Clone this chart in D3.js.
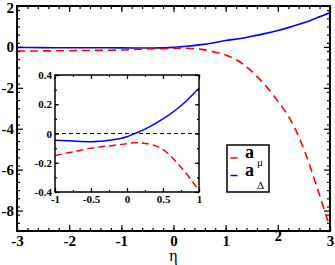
<!DOCTYPE html>
<html>
<head>
<meta charset="utf-8">
<script src="https://cdn.jsdelivr.net/npm/d3@7"></script>
<style>
  body { margin: 0; background: #fff; }
  svg text { font-family: "Liberation Serif", "Times New Roman", Times, "DejaVu Serif", serif; }
</style>
</head>
<body>
<div id="chart"></div>
<script>
// values
var eta = [-3, -2.5, -2, -1.5, -1, -0.75, -0.5, -0.25, 0, 0.1, 0.25, 0.5, 0.75, 1,
           1.25, 1.5, 1.75, 2, 2.25, 2.5, 2.75, 3];
var aMu = [-0.2, -0.195, -0.185, -0.17, -0.15, -0.126, -0.1, -0.085, -0.07, -0.063, -0.068, -0.11, -0.23, -0.39,
           -0.7, -1.2, -1.85, -2.65, -3.6, -5.0, -6.85, -8.85];
var aDelta = [-0.03, -0.035, -0.04, -0.043, -0.046, -0.052, -0.056, -0.046, -0.022, -0.002, 0.03, 0.1, 0.19, 0.31,
              0.4, 0.52, 0.65, 0.8, 0.98, 1.18, 1.42, 1.68];

var xTicks = [-3, -2, -1, 0, 1, 2, 3];
var yTicks = [2, 0, -2, -4, -6, -8];
var insetXTicks = [-1, -0.5, 0, 0.5, 1];
var insetYTicks = [-0.4, -0.2, 0, 0.2, 0.4];

var W = 335, H = 265;
var svg = d3.select('#chart').append('svg').attr('width', W).attr('height', H);

var x = d3.scaleLinear().domain([-3, 3]).range([17, 330]);
var y = d3.scaleLinear().domain([-9, 2]).range([231, 6]);

var pts = eta.map(function(e, i) { return { e: e, mu: aMu[i], d: aDelta[i] }; });

function drawFrame(g, xs, ys, major, minorX, minorY, xt, yt, fs, lw, pad) {
    var r = xs.range(), rr = ys.range();
    var x0 = r[0], x1 = r[1], y0 = rr[1], y1 = rr[0];
    var mk = function(sel, axis) {
        sel.call(axis).attr('font-family', null);
        sel.select('.domain').remove();
    };
    // minor ticks
    var minX = d3.range(xs.domain()[0], xs.domain()[1] + 1e-9, minorX);
    var minY = d3.range(ys.domain()[0], ys.domain()[1] + 1e-9, minorY);
    g.append('g').attr('transform', 'translate(0,' + y1 + ')')
        .call(function(s){ mk(s, d3.axisBottom(xs).tickValues(minX).tickSize(-major/2).tickFormat('')); });
    g.append('g').attr('transform', 'translate(0,' + y0 + ')')
        .call(function(s){ mk(s, d3.axisTop(xs).tickValues(minX).tickSize(-major/2).tickFormat('')); });
    g.append('g').attr('transform', 'translate(' + x0 + ',0)')
        .call(function(s){ mk(s, d3.axisLeft(ys).tickValues(minY).tickSize(-major/2).tickFormat('')); });
    g.append('g').attr('transform', 'translate(' + x1 + ',0)')
        .call(function(s){ mk(s, d3.axisRight(ys).tickValues(minY).tickSize(-major/2).tickFormat('')); });
    // major ticks with labels
    g.append('g').attr('transform', 'translate(0,' + y1 + ')')
        .call(function(s){ mk(s, d3.axisBottom(xs).tickValues(xt).tickSize(-major).tickPadding(pad).tickFormat(String)); });
    g.append('g').attr('transform', 'translate(0,' + y0 + ')')
        .call(function(s){ mk(s, d3.axisTop(xs).tickValues(xt).tickSize(-major).tickFormat('')); });
    g.append('g').attr('transform', 'translate(' + x0 + ',0)')
        .call(function(s){ mk(s, d3.axisLeft(ys).tickValues(yt).tickSize(-major).tickPadding(3).tickFormat(String)); });
    g.append('g').attr('transform', 'translate(' + x1 + ',0)')
        .call(function(s){ mk(s, d3.axisRight(ys).tickValues(yt).tickSize(-major).tickFormat('')); });
    g.selectAll('.tick line').attr('stroke', '#000').attr('stroke-width', 1.2);
    g.selectAll('.tick text').attr('fill', '#000').attr('font-size', fs).attr('font-weight', 'bold');
    g.append('rect').attr('x', x0).attr('y', y0).attr('width', x1 - x0).attr('height', y1 - y0)
        .attr('fill', 'none').attr('stroke', '#000').attr('stroke-width', lw);
}

// main curves
svg.append('clipPath').attr('id', 'mainclip').append('rect')
    .attr('x', 17).attr('y', 6).attr('width', 313).attr('height', 225);
var line = function(key, xs, ys) {
    return d3.line().curve(d3.curveMonotoneX)
        .x(function(d) { return xs(d.e); }).y(function(d) { return ys(d[key]); });
};
var main = svg.append('g').attr('clip-path', 'url(#mainclip)');
main.append('path').datum(pts).attr('d', line('d', x, y))
    .attr('fill', 'none').attr('stroke', '#0000ff').attr('stroke-width', 1.6);
main.append('path').datum(pts).attr('d', line('mu', x, y))
    .attr('fill', 'none').attr('stroke', '#ff0000').attr('stroke-width', 1.6).attr('stroke-dasharray', '8,5');

drawFrame(svg.append('g'), x, y, 6, 0.2, 0.4, xTicks, yTicks, 15, 2, 4);
// keep the top label inside the picture
svg.selectAll('.tick text').filter(function() { return this.textContent === '2'; }).attr('dy', '0.4em');

svg.append('text').attr('x', x(0)).attr('y', 261).attr('text-anchor', 'middle')
    .attr('font-size', 16).text('η');

// inset
var ix = d3.scaleLinear().domain([-1, 1]).range([55, 199]);
var iy = d3.scaleLinear().domain([-0.4, 0.4]).range([192, 75]);
svg.append('rect').attr('x', 55).attr('y', 75).attr('width', 144).attr('height', 117).attr('fill', '#fff');
svg.append('clipPath').attr('id', 'insetclip').append('rect')
    .attr('x', 55).attr('y', 75).attr('width', 144).attr('height', 117);
var inset = svg.append('g').attr('clip-path', 'url(#insetclip)');
var ipts = pts.filter(function(d) { return d.e >= -1 && d.e <= 1; });
inset.append('line').attr('x1', ix(-1)).attr('x2', ix(1)).attr('y1', iy(0)).attr('y2', iy(0))
    .attr('stroke', '#000').attr('stroke-width', 1).attr('stroke-dasharray', '4,3');
inset.append('path').datum(ipts).attr('d', line('d', ix, iy))
    .attr('fill', 'none').attr('stroke', '#0000ff').attr('stroke-width', 1.5);
inset.append('path').datum(ipts).attr('d', line('mu', ix, iy))
    .attr('fill', 'none').attr('stroke', '#ff0000').attr('stroke-width', 1.5).attr('stroke-dasharray', '7,4');

drawFrame(svg.append('g'), ix, iy, 4, 0.25, 0.1, insetXTicks, insetYTicks, 11, 1.5, 3);

// legend
var leg = svg.append('g');
leg.append('rect').attr('x', 227).attr('y', 145).attr('width', 42).attr('height', 47)
    .attr('fill', '#fff').attr('stroke', '#000').attr('stroke-width', 1.5);
var legItems = [
    { color: '#ff0000', sub: 'μ', y: 158, subY: 166 },
    { color: '#0000ff', sub: 'Δ', y: 175.5, subY: 189 }
];
legItems.forEach(function(it) {
    leg.append('line').attr('x1', 230.5).attr('x2', 237.5).attr('y1', it.y).attr('y2', it.y)
        .attr('stroke', it.color).attr('stroke-width', 1.5);
    leg.append('text').attr('x', 245).attr('y', it.y).attr('font-size', 18).attr('font-weight', 'bold').text('a');
    leg.append('text').attr('x', 257).attr('y', it.subY).attr('font-size', 11).text(it.sub);
});
</script>
</body>
</html>
